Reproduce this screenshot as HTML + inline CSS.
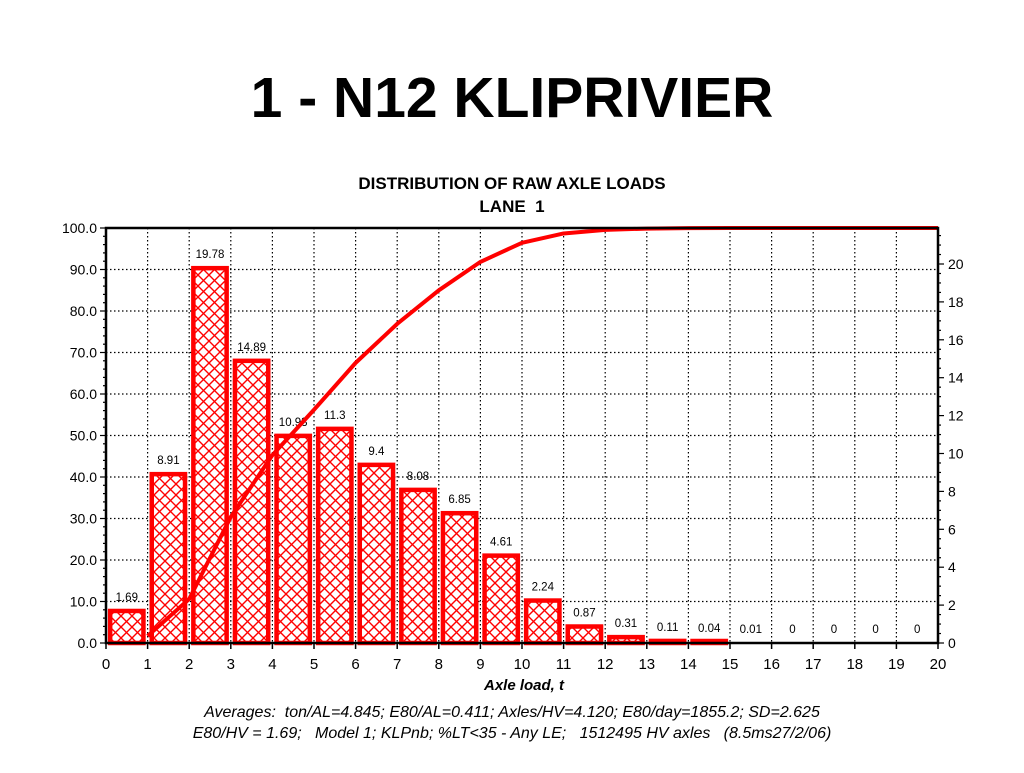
<!DOCTYPE html>
<html><head><meta charset="utf-8"><style>
body{margin:0;background:#fff;width:1024px;height:768px;overflow:hidden;font-family:"Liberation Sans",Arial,sans-serif}
text{white-space:pre}
</style></head><body>
<svg width="1024" height="768" xmlns="http://www.w3.org/2000/svg" font-family="Liberation Sans, Arial, sans-serif" xml:space="preserve">
<defs>
<pattern id="hatch" width="11" height="11" patternUnits="userSpaceOnUse">
<rect width="11" height="11" fill="#fff"/>
<path d="M0,0 L11,11 M11,0 L0,11" stroke="#f00" stroke-width="1.4"/>
</pattern>
</defs>
<text x="512" y="117" text-anchor="middle" font-size="57" font-weight="bold">1 - N12 KLIPRIVIER</text>
<text x="512" y="189" text-anchor="middle" font-size="17" font-weight="bold">DISTRIBUTION OF RAW AXLE LOADS</text>
<text x="512" y="212" text-anchor="middle" font-size="17" font-weight="bold">LANE  1</text>
<g id="grid"></g>
<g id="bars"></g>
<g id="curve"></g>
<g id="axes"></g>
<text x="524" y="690" text-anchor="middle" font-size="15" font-weight="bold" font-style="italic">Axle load, t</text>
<text x="512" y="717" text-anchor="middle" font-size="16" font-style="italic">Averages:  ton/AL=4.845; E80/AL=0.411; Axles/HV=4.120; E80/day=1855.2; SD=2.625</text>
<text x="512" y="738" text-anchor="middle" font-size="16" font-style="italic">E80/HV = 1.69;   Model 1; KLPnb; %LT&lt;35 - Any LE;   1512495 HV axles   (8.5ms27/2/06)</text>
</svg>
<script>
const categories=[0,1,2,3,4,5,6,7,8,9,10,11,12,13,14,15,16,17,18,19];
const percentValues=[1.69,8.91,19.78,14.89,10.93,11.3,9.4,8.08,6.85,4.61,2.24,0.87,0.31,0.11,0.04,0.01,0,0,0,0];
const percentLabels=["1.69","8.91","19.78","14.89","10.93","11.3","9.4","8.08","6.85","4.61","2.24","0.87","0.31","0.11","0.04","0.01","0","0","0","0"];
const cumulativeValues=[1.69,10.6,30.38,45.27,56.2,67.5,76.9,84.98,91.83,96.44,98.68,99.55,99.86,99.97,100,100,100,100,100,100];
const xTicks=[0,1,2,3,4,5,6,7,8,9,10,11,12,13,14,15,16,17,18,19,20];
const leftTicks=[0,10,20,30,40,50,60,70,80,90,100];
const rightTicks=[0,2,4,6,8,10,12,14,16,18,20];

const NS="http://www.w3.org/2000/svg";
const X0=106,X1=938,Y0=643,Y1=228;
const xs=v=>X0+(X1-X0)*v/20;
const yl=v=>Y0-(Y0-Y1)*v/100;
const yr=v=>Y0-18.95*v;
function mk(tag,attrs,parent,text){const e=document.createElementNS(NS,tag);for(const k in attrs)e.setAttribute(k,attrs[k]);if(text!==undefined)e.textContent=text;document.getElementById(parent).appendChild(e);return e;}

xTicks.forEach(t=>{if(t>0&&t<20){const e=mk('line',{x1:xs(t),x2:xs(t),y1:Y1,y2:Y0,stroke:'#000','stroke-width':1.2,'stroke-dasharray':'1.5,2.5'},'grid');

}});
leftTicks.forEach(t=>{if(t>0&&t<100){const e=mk('line',{x1:X0,x2:X1,y1:yl(t),y2:yl(t),stroke:'#000','stroke-width':1.2,'stroke-dasharray':'1.5,2.5'},'grid');

}});

percentValues.forEach((v,i)=>{
  const c=categories[i];
  const x=xs(c+0.1),w=xs(c+0.9)-x;
  if(v>=0.02){
    const h=Y0-yr(v);
    const r=mk('rect',{x:x,y:Math.min(yr(v),Y0-2),width:w,height:Math.max(h,2),fill:'url(#hatch)',stroke:'#f00','stroke-width':4.5},'bars');
    
    
  }
  const t=mk('text',{x:xs(c+0.5),y:yr(v)-10,'text-anchor':'middle','font-size':11.5},'bars',percentLabels[i]);
  
  
});

let d='';
cumulativeValues.forEach((v,i)=>{d+=(i?'L':'M')+xs(categories[i]+1)+','+yl(v);});
const p=mk('path',{d:d,fill:'none',stroke:'#f00','stroke-width':4,'stroke-linejoin':'round'},'curve');



const fr=mk('rect',{x:X0,y:Y1,width:X1-X0,height:Y0-Y1,fill:'none',stroke:'#000','stroke-width':2.5},'axes');


xTicks.forEach(t=>{
  mk('line',{x1:xs(t),x2:xs(t),y1:Y0,y2:Y0+6,stroke:'#000','stroke-width':1.5},'axes');
  const e=mk('text',{x:xs(t),y:Y0+26,'text-anchor':'middle','font-size':15},'axes',String(t));
  
  
});
for(let v=0;v<=100;v+=2){mk('line',{x1:X0-(v%10?3:6),x2:X0,y1:yl(v),y2:yl(v),stroke:'#000','stroke-width':1.2},'axes');}
leftTicks.forEach(t=>{
  const e=mk('text',{x:X0-9,y:yl(t)+5,'text-anchor':'end','font-size':14},'axes',t.toFixed(1));
  
  
});
for(let v=0;v<=21.8;v+=0.5){mk('line',{x1:X1,x2:X1+(v%2?3:6),y1:yr(v),y2:yr(v),stroke:'#000','stroke-width':1.2},'axes');}
rightTicks.forEach(t=>{
  const e=mk('text',{x:X1+10,y:yr(t)+5,'text-anchor':'start','font-size':14},'axes',String(t));
  
  
});
</script>
</body></html>
